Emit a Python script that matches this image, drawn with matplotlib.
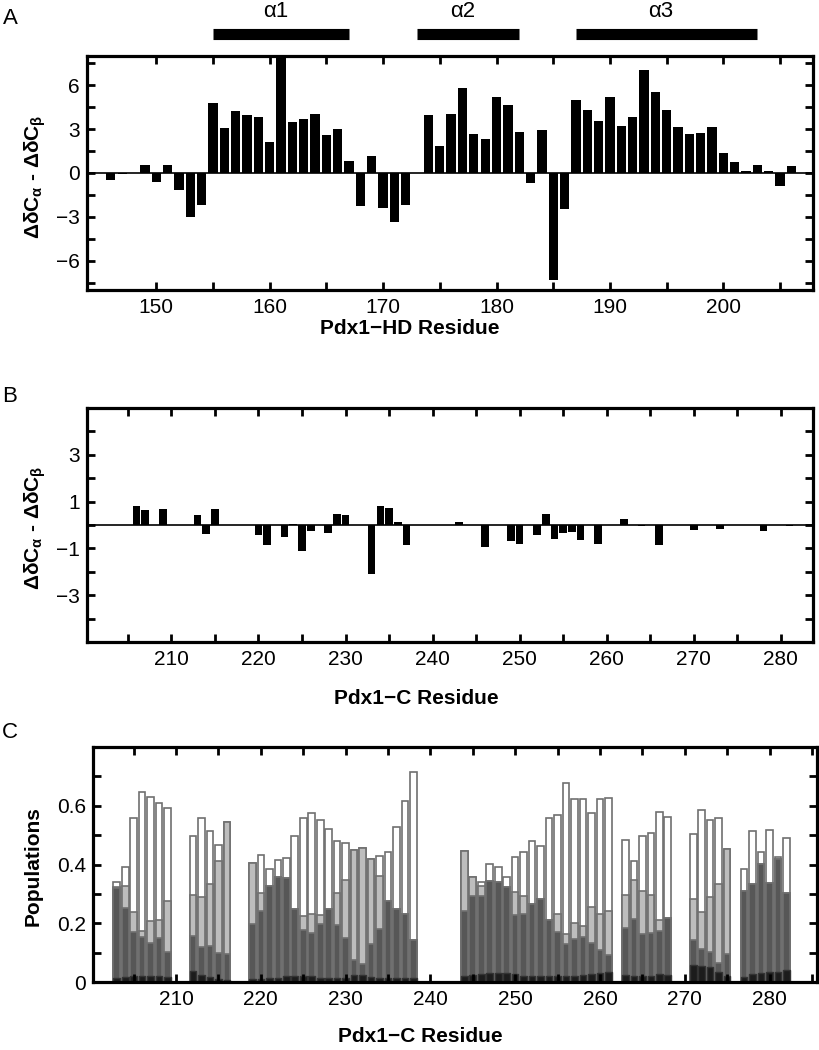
import numpy as np
import matplotlib
matplotlib.use("Agg")
import matplotlib.pyplot as plt
from matplotlib.ticker import FixedLocator, MultipleLocator, FuncFormatter

plt.rcParams['font.family'] = ['Liberation Sans', 'DejaVu Sans']
plt.rcParams['mathtext.default'] = 'regular'

# ---------------- Panel A data (Pdx1-HD) ----------------
resA = [146, 147, 149, 150, 151, 152, 153, 154, 155, 156, 157, 158, 159, 160,
        161, 162, 163, 164, 165, 166, 167, 168, 169, 170, 171, 172, 174, 175,
        176, 177, 178, 179, 180, 181, 182, 183, 184, 185, 186, 187, 188, 189,
        190, 191, 192, 193, 194, 195, 196, 197, 198, 199, 200, 201, 202, 203,
        204, 205, 206]
valA = [-0.45, -0.1, 0.52, -0.64, 0.57, -1.14, -3.0, -2.16, 4.78, 3.08, 4.21, 3.94,
        3.80, 2.10, 8.6, 3.46, 3.69, 4.03, 2.62, 3.0, 0.84, -2.23, 1.14, -2.39,
        -3.37, -2.21, 3.99, 1.87, 4.05, 5.81, 2.67, 2.32, 5.17, 4.67, 2.82, -0.68,
        2.92, -7.29, -2.44, 4.99, 4.33, 3.58, 5.22, 3.21, 3.80, 7.02, 5.51, 4.28,
        3.14, 2.67, 2.73, 3.12, 1.34, 0.77, 0.16, 0.52, 0.16, -0.87, 0.46]
helix_names = ['α1', 'α2', 'α3']
helix_start = [155, 173, 187]
helix_end = [167, 182, 203]

# ---------------- Panel B data (Pdx1-C) ----------------
resB = [206, 207, 209, 213, 214, 215, 220, 221, 223, 224, 225, 226, 228, 229,
        230, 233, 234, 235, 236, 237, 243, 246, 249, 250, 252, 253, 254, 255,
        256, 257, 259, 262, 264, 266, 270, 273, 278, 281]
valB = [0.83, 0.64, 0.67, 0.44, -0.40, 0.67, -0.43, -0.86, -0.50, 0.03, -1.11,
        -0.24, -0.33, 0.47, 0.43, -2.1, 0.80, 0.74, 0.14, -0.87, 0.12, -0.93,
        -0.69, -0.81, -0.42, 0.48, -0.60, -0.34, -0.28, -0.63, -0.80, 0.26,
        -0.05, -0.86, -0.20, -0.18, -0.27, -0.03]

# ---------------- Panel C data (cumulative populations) ----------------
resC = ([203, 204, 205, 206, 207, 208, 209]
        + [212, 213, 214, 215, 216]
        + list(range(219, 239))
        + list(range(244, 262))
        + [263, 264, 265, 266, 267, 268]
        + [271, 272, 273, 274, 275]
        + [277, 278, 279, 280, 281, 282])
pop_total = [0.339, 0.39, 0.56, 0.647, 0.63, 0.61, 0.593,
             0.497, 0.559, 0.515, 0.466, 0.545,
             0.406, 0.432, 0.383, 0.415, 0.423, 0.498, 0.56, 0.576, 0.551, 0.52,
             0.481, 0.474, 0.451, 0.455, 0.42, 0.428, 0.442, 0.528, 0.616, 0.714,
             0.447, 0.356, 0.341, 0.402, 0.392, 0.358, 0.424, 0.444, 0.48, 0.464,
             0.56, 0.567, 0.678, 0.623, 0.623, 0.574, 0.622, 0.625,
             0.483, 0.413, 0.498, 0.506, 0.58, 0.563,
             0.503, 0.584, 0.55, 0.559, 0.452,
             0.385, 0.515, 0.443, 0.517, 0.426, 0.489]
pop_light = [0.325, 0.328, 0.239, 0.172, 0.207, 0.21, 0.276,
             0.297, 0.288, 0.332, 0.413, 0.545,
             0.406, 0.303, 0.327, 0.358, 0.355, 0.25, 0.226, 0.232, 0.228, 0.247,
             0.303, 0.347, 0.451, 0.455, 0.42, 0.361, 0.277, 0.247, 0.231, 0.142,
             0.447, 0.356, 0.326, 0.344, 0.341, 0.322, 0.307, 0.292, 0.265, 0.284,
             0.21, 0.233, 0.163, 0.2, 0.19, 0.256, 0.231, 0.242,
             0.297, 0.347, 0.31, 0.295, 0.21, 0.217,
             0.284, 0.238, 0.29, 0.335, 0.452,
             0.309, 0.333, 0.403, 0.338, 0.418, 0.303]
pop_dark = [0.32, 0.252, 0.169, 0.152, 0.133, 0.15, 0.101,
            0.158, 0.119, 0.123, 0.099, 0.095,
            0.199, 0.242, 0.327, 0.358, 0.355, 0.25, 0.178, 0.167, 0.197, 0.247,
            0.194, 0.149, 0.074, 0.06, 0.128, 0.18, 0.277, 0.247, 0.231, 0.142,
            0.241, 0.292, 0.294, 0.344, 0.341, 0.322, 0.228, 0.231, 0.265, 0.284,
            0.21, 0.169, 0.128, 0.145, 0.153, 0.134, 0.108, 0.093,
            0.185, 0.213, 0.164, 0.168, 0.174, 0.217,
            0.144, 0.114, 0.102, 0.065, 0.097,
            0.309, 0.333, 0.403, 0.338, 0.418, 0.303]
pop_black = [0.015, 0.017, 0.019, 0.02, 0.02, 0.019, 0.017,
             0.038, 0.023, 0.017, 0.009, 0.008,
             0.009, 0.011, 0.014, 0.015, 0.02, 0.022, 0.022, 0.02, 0.015, 0.012,
             0.013, 0.015, 0.023, 0.025, 0.016, 0.015, 0.012, 0.013, 0.015, 0.014,
             0.019, 0.025, 0.026, 0.032, 0.032, 0.031, 0.027, 0.022, 0.021, 0.02,
             0.02, 0.02, 0.019, 0.02, 0.023, 0.026, 0.03, 0.033,
             0.023, 0.019, 0.02, 0.022, 0.026, 0.024,
             0.059, 0.055, 0.05, 0.033, 0.022,
             0.017, 0.026, 0.031, 0.035, 0.035, 0.042]

W, H = 819, 1050
fig = plt.figure(figsize=(W / 100, H / 100), dpi=100)


def rect(l, t, r, b):
    return [l / W, 1 - b / H, (r - l) / W, (b - t) / H]


def px(x, y):
    return x / W, 1 - y / H


TICK_FS = 15
LABEL_FS = 15


def style(ax):
    for s in ax.spines.values():
        s.set_linewidth(2.3)
    ax.tick_params(which='both', direction='in', top=True, right=True,
                   labelsize=TICK_FS, width=2.0, length=6)
    ax.tick_params(axis='x', pad=6)
    ax.tick_params(axis='y', pad=5)


# ---------------- Panel A ----------------
axA = fig.add_axes(rect(87, 56, 813, 290))
axA.bar(resA, valA, width=0.82, color='black', edgecolor='none')
axA.axhline(0, color='black', lw=1.2)
axA.set_xlim(143.9, 207.9)
axA.set_ylim(-8, 8)
axA.yaxis.set_major_locator(FixedLocator([-6, -3, 0, 3, 6]))
axA.yaxis.set_minor_locator(MultipleLocator(1.5))
axA.xaxis.set_major_locator(FixedLocator(list(range(150, 201, 10))))
axA.xaxis.set_minor_locator(FixedLocator(list(range(155, 206, 10))))
style(axA)
for name, s, e in zip(helix_names, helix_start, helix_end):
    axA.plot([s, e], [1.092, 1.092], transform=axA.get_xaxis_transform(),
             color='black', lw=8, solid_capstyle='butt', clip_on=False)
    axA.text((s + e) / 2 - 0.5, 1.192, name, transform=axA.get_xaxis_transform(),
             ha='center', va='center', fontsize=16)

# ---------------- Panel B ----------------
axB = fig.add_axes(rect(87, 408, 813, 642))
axB.bar(resB, valB, width=0.88, color='black', edgecolor='none')
axB.axhline(0, color='black', lw=1.2)
axB.set_xlim(200.3, 283.7)
axB.set_ylim(-5, 5)
axB.yaxis.set_major_locator(FixedLocator([-3, -1, 1, 3]))
axB.yaxis.set_minor_locator(FixedLocator([-4, -2, 0, 2, 4]))
axB.xaxis.set_major_locator(FixedLocator(list(range(210, 281, 10))))
axB.xaxis.set_minor_locator(FixedLocator(list(range(205, 281, 10))))
style(axB)

# ---------------- Panel C ----------------
axC = fig.add_axes(rect(93, 747, 817, 982))
edge = '#707070'
axC.bar(resC, pop_total, width=0.78, color='white', edgecolor=edge, lw=1.2)
axC.bar(resC, pop_light, width=0.78, color='#bdbdbd', edgecolor=edge, lw=1.2)
axC.bar(resC, pop_dark, width=0.78, color='#575757', edgecolor=edge, lw=1.2)
axC.bar(resC, pop_black, width=0.78, color='#1c1c1c', edgecolor='#333333', lw=1.0)
axC.set_xlim(200.2, 285.6)
axC.set_ylim(0, 0.8)
axC.yaxis.set_major_locator(FixedLocator([0, 0.2, 0.4, 0.6]))
axC.yaxis.set_minor_locator(MultipleLocator(0.1))
axC.yaxis.set_major_formatter(FuncFormatter(lambda v, p: '0' if abs(v) < 1e-9 else f'{v:.1f}'))
axC.xaxis.set_major_locator(FixedLocator(list(range(210, 281, 10))))
axC.xaxis.set_minor_locator(FixedLocator(list(range(205, 286, 10))))
style(axC)

# ---------------- Labels ----------------
ylab = 'ΔδC$_α$ - ΔδC$_β$'
fig.text(*px(35, 177), ylab, rotation=90, ha='center', va='center',
         fontsize=LABEL_FS, fontweight='bold')
fig.text(*px(35, 528), ylab, rotation=90, ha='center', va='center',
         fontsize=LABEL_FS, fontweight='bold')
fig.text(*px(33, 866), 'Populations', rotation=90, ha='center', va='center',
         fontsize=LABEL_FS, fontweight='bold')
fig.text(*px(410, 328), 'Pdx1\u2212HD Residue', ha='center', va='center',
         fontsize=LABEL_FS, fontweight='bold')
fig.text(*px(416, 699), 'Pdx1\u2212C Residue', ha='center', va='center',
         fontsize=LABEL_FS, fontweight='bold')
fig.text(*px(420, 1036), 'Pdx1\u2212C Residue', ha='center', va='center',
         fontsize=LABEL_FS, fontweight='bold')

fig.text(*px(10, 19), 'A', ha='center', va='center', fontsize=16)
fig.text(*px(10, 397), 'B', ha='center', va='center', fontsize=16)
fig.text(*px(10, 733), 'C', ha='center', va='center', fontsize=16)

fig.savefig('out.png', dpi=100)
